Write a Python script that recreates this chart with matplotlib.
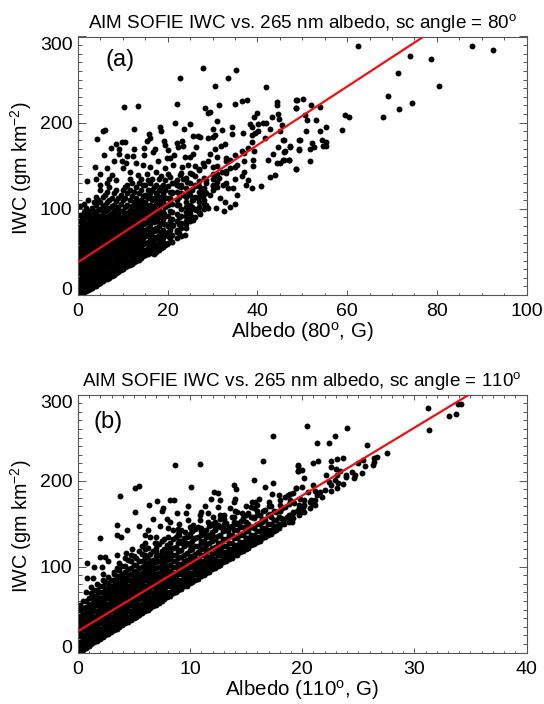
import matplotlib
matplotlib.use('Agg')
import matplotlib.pyplot as plt
from matplotlib.transforms import ScaledTranslation

plt.rcParams['font.family'] = ['Liberation Sans', 'DejaVu Sans']
plt.rcParams['mathtext.fontset'] = 'custom'
plt.rcParams['mathtext.rm'] = 'Liberation Sans'
plt.rcParams['mathtext.default'] = 'regular'

# panel (a): dense part, one x per row of y values
a_dense_x = [0.4, 1.3, 2.2, 3.1, 4.0, 5.0, 6.0, 7.0, 8.0, 9.0, 10, 11, 12, 13, 14, 15, 16, 17, 18, 19, 20,
             0.85, 1.75, 2.65, 3.55, 4.5, 5.5, 6.5, 7.5, 8.5, 9.5, 10.5, 11.5, 12.5, 13.5, 14.5, 15.5, 16.5,
             17.5, 18.5, 19.5, 21, 22, 23, 24, 25, 26, 27, 28,
             10.2, 11.7, 13.2, 14.7, 16.2, 17.7, 19.2, 20.5, 22.5, 24, 25.5, 27, 28.5, 30, 31, 33, 35, 37, 39]
a_dense_y = [
    [1, 7, 13, 19, 25, 31, 37, 43, 49, 55, 61, 67, 73, 79, 86, 93, 103],
    [3, 9, 15, 21, 27, 33, 39, 45, 51, 57, 63, 69, 75, 81, 88, 96, 106],
    [6, 12, 18, 24, 30, 36, 42, 48, 54, 60, 66, 72, 78, 84, 90, 98, 110],
    [8, 14, 20, 26, 32, 38, 44, 50, 56, 62, 68, 74, 80, 86, 92, 101],
    [11, 17, 23, 29, 35, 41, 47, 53, 59, 65, 71, 77, 83, 89, 95, 104, 114],
    [14, 20, 26, 32, 38, 44, 50, 56, 62, 68, 74, 80, 86, 92, 100, 108, 122, 128],
    [18, 24, 30, 36, 42, 48, 54, 60, 66, 72, 78, 84, 90, 97, 105, 116],
    [20, 26, 32, 38, 44, 50, 56, 62, 68, 74, 80, 86, 93, 101, 110, 125, 135],
    [23, 29, 35, 41, 47, 53, 59, 65, 71, 77, 83, 90, 97, 105, 118],
    [27, 33, 39, 45, 51, 57, 63, 69, 75, 81, 87, 94, 102, 112],
    [30, 36, 42, 48, 54, 60, 66, 72, 78, 84, 90, 98, 110, 122],
    [34, 40, 46, 52, 58, 64, 70, 76, 82, 88, 95, 105, 118, 128],
    [36, 42, 48, 54, 60, 67, 74, 80, 87, 94, 103, 115, 130],
    [39, 46, 52, 60, 66, 73, 80, 88, 95, 104, 112, 125],
    [43, 50, 57, 64, 72, 78, 86, 94, 102, 110, 122, 135],
    [46, 52, 60, 68, 76, 84, 92, 100, 108, 116, 128],
    [50, 58, 66, 72, 82, 90, 98, 105, 118, 130],
    [48, 55, 64, 74, 85, 93, 103, 112, 125],
    [52, 60, 70, 80, 90, 100, 110, 122, 135],
    [56, 66, 76, 88, 96, 108, 118, 128],
    [60, 68, 80, 92, 104, 112, 126, 140],
    [4, 10, 16, 22, 28, 34, 40, 46, 52, 58, 64, 70, 76, 82, 90],
    [5, 11, 17, 23, 29, 35, 41, 47, 53, 59, 65, 71, 77, 83, 92, 101],
    [7, 13, 19, 25, 31, 37, 43, 49, 55, 61, 67, 73, 79, 87, 94],
    [10, 16, 22, 28, 34, 40, 46, 52, 58, 64, 70, 76, 82, 89, 97, 108],
    [13, 19, 25, 31, 37, 43, 49, 55, 61, 67, 73, 79, 85, 92, 99, 110],
    [16, 22, 28, 34, 40, 46, 52, 58, 64, 70, 76, 82, 88, 95, 103, 114],
    [19, 25, 31, 37, 43, 49, 55, 61, 67, 73, 79, 85, 91, 99, 108, 120, 130],
    [22, 28, 34, 40, 46, 52, 58, 64, 70, 76, 82, 88, 95, 103, 113],
    [25, 31, 37, 43, 49, 55, 61, 67, 73, 79, 85, 92, 100, 109, 122, 133],
    [29, 35, 41, 47, 53, 59, 65, 71, 77, 83, 89, 97, 106, 116],
    [32, 38, 44, 50, 56, 62, 68, 74, 80, 86, 93, 102, 113, 125],
    [35, 41, 47, 53, 59, 65, 71, 77, 83, 91, 99, 110, 122, 135],
    [38, 44, 51, 57, 63, 70, 77, 84, 91, 98, 108, 120],
    [41, 48, 55, 62, 69, 76, 84, 91, 100, 108, 118, 130],
    [45, 52, 59, 66, 74, 82, 90, 98, 106, 115, 128],
    [48, 55, 62, 70, 78, 86, 94, 103, 112, 122, 133],
    [49, 60, 68, 77, 86, 94, 102, 110, 122, 135],
    [50, 58, 67, 78, 88, 98, 106, 118, 128],
    [54, 63, 73, 84, 94, 104, 114, 125, 138],
    [58, 71, 82, 92, 102, 112, 122, 134],
    [62, 70, 80, 88, 96, 106, 118, 130],
    [66, 76, 86, 94, 110, 120, 134],
    [68, 78, 84, 92, 100, 118, 128, 142],
    [78, 86, 96, 108, 124, 136],
    [86, 98, 105, 116, 130, 142],
    [90, 100, 114, 126, 138, 150],
    [96, 108, 120, 132, 146],
    [100, 110, 124, 136, 150],
    [33, 45, 57, 69, 81, 93],
    [38, 50, 62, 74, 86, 97],
    [44, 56, 68, 80, 92, 102],
    [48, 60, 72, 84, 96, 108],
    [54, 64, 76, 88, 100, 112],
    [54, 66, 76, 86, 96, 108, 116],
    [60, 70, 82, 94, 104, 114],
    [66, 76, 86, 98, 108, 120],
    [72, 82, 90, 104, 114, 126],
    [82, 92, 102, 114],
    [90, 102, 110, 122],
    [102, 114, 126],
    [104, 118, 130],
    [122, 135, 148],
    [125, 140, 150],
    [130, 142, 155],
    [135, 148],
    [143, 155, 165],
    [150],
]
# panel (a): scattered points
a_x = [27.8, 35.2, 33.4, 22.7, 30.5, 42, 10.2, 13.3, 22.1, 31.4, 28.3, 35.1, 36.5, 37.6, 29.4, 29, 44.3, 44.3,
       48.7, 48.6, 30.9, 39.8, 39.3, 43.3, 44.6, 44.8, 38.3, 38.7, 40.2, 41.2, 42, 21.6, 25, 18.3, 18.6, 23.7,
       12.4, 6, 5.6, 34.4, 32, 30.2, 34.4, 36.7, 15.8, 16, 15.3, 25.6, 26.8, 27.2, 29, 30.2, 30.6, 4.2, 8.4,
       9.7, 10.5, 7.3, 9.1, 9.1, 5.9, 19.2, 19.4, 17.2, 16.8, 14.8, 14.7, 12.5, 12.2, 11, 22, 23.1, 20.1, 22.4,
       23.5, 26.4, 25.7, 25, 23.8, 21.4, 20.5, 29.4, 30.5, 31.8, 32.8, 30.9, 27.9, 29, 38, 38.7, 38.7, 39.5,
       40.2, 41.7, 42.9, 45, 45.8, 45.4, 36.5, 35, 33.9, 33.1, 39.2, 39.1, 44.6, 47.3, 46.1, 43.4, 42.4, 44.4,
       45.8, 47.1, 48.7, 42.9, 44, 49.3, 49.3, 40.7, 38.7, 37.4, 36.5, 38, 35.4, 35, 33.9, 32.6, 30.7, 29,
       28.2, 27.9, 29.4, 31.6, 32.8, 34.6, 33.5, 32.4, 30.9, 30.2, 32, 33.9, 35.4, 3.8, 2.1, 4, 5, 6.4, 8.1,
       9.7, 10.8, 7.5, 13, 14.6, 16, 17.9, 19.8, 10, 11.6, 13.4, 15.3, 17.5, 19.4, 21.2, 23.1, 24.6, 20.5,
       22.7, 24.2, 22, 20.5, 22, 23.5, 24.6, 25.7, 26.8, 27.2, 24.2, 22.7, 21.2, 20.1, 23.8, 19.8, 18.3, 22,
       25.7, 26.4, 25, 28.3, 21, 23, 24.5, 26, 27.5, 21.5, 23.5, 25.5, 27, 28.5, 30, 31.5, 33, 28, 30, 31,
       62.5, 87.9, 92.5, 74.1, 78.7, 71.3, 80.6, 69.2, 74.4, 71.5, 68.1, 59.5, 60.5, 58.9, 48.8, 50.1, 48.6,
       51.9, 53.9, 50.7, 51, 53, 50.8, 53.9, 55.3, 49.4, 54.5, 55.4, 54.7, 55.2, 52.2, 52.6, 51.8, 49.3, 47.3,
       46, 46, 45.9, 47, 48.7, 51.8, 45]
a_y = [263, 261, 252, 252, 243, 241, 218.6, 219, 222, 220, 217, 222, 225, 226, 212, 211, 224, 220.5,
       226, 217, 202, 211, 206, 207, 210, 204, 198, 195, 199, 200, 200, 200, 198, 195, 190, 193,
       193, 192, 190, 195, 192, 193, 187, 188, 187, 182, 179, 184.5, 184, 183, 182.6, 183, 186, 181, 175.6,
       177, 178, 171, 169, 164, 162, 179, 174, 170, 165.6, 171, 163, 169, 161, 161, 176, 179, 168, 172,
       173, 172, 164, 160.5, 160.5, 162, 159, 164, 170, 173, 175, 160, 153, 155, 171, 178, 186, 188,
       190, 182, 193, 190, 180, 197, 167, 162, 157, 159, 167, 157, 172, 172, 167, 164, 157, 153,
       157, 157, 146, 137, 139, 180, 169, 126, 124, 128, 138, 133, 116, 106, 102.5, 98, 100.6, 100.6,
       106, 115, 116, 112, 108, 124, 124, 128, 131, 141, 143, 147, 151, 149, 132, 135, 141, 147, 155,
       155.5, 153, 139, 153, 151, 149, 155, 159, 147, 143, 139, 141, 143, 147, 151, 149, 151, 137,
       139, 131.5, 128, 112, 104, 116, 102.5, 110, 112, 93.6, 89, 81, 81, 73.5, 69.6, 58.8, 65.8, 73.5,
       87, 98.6, 94.8, 120, 120, 125, 120, 128, 122, 130, 135, 140, 145, 134, 128, 136, 144, 118, 126, 138,
       289, 289.4, 284, 277, 274, 258, 243, 231, 223, 215.5, 206, 209, 206.6, 192, 226, 227.5, 216.6,
       221, 218, 209, 203, 203.5, 190.7, 190.7, 195, 180, 179.5, 178, 173, 172.5, 176, 172, 170, 168, 173,
       180, 166, 157, 157, 146, 156, 153]
a_line_x = [0, 77.1]
a_line_y = [38, 300]

# panel (b): dense band along the lower edge
b_dense_x = [0.2, 0.7, 1.2, 1.7, 2.2, 2.7, 3.2, 3.7, 4.2, 4.7, 5.2, 5.7, 6.2, 6.7, 7.2, 7.7, 8.2, 8.7, 9.2, 9.7,
             10.2, 10.7, 11.2, 11.7, 12.2, 12.7, 13.2, 13.7, 14.2, 14.7, 15.2, 15.7, 16.2, 16.7, 17.2, 17.7,
             0.45, 0.95, 1.45, 1.95, 2.45, 2.95, 3.45, 3.95, 4.45, 4.95, 5.45, 5.95, 6.45, 6.95, 7.45, 7.95,
             8.45, 8.95, 9.45, 9.95, 10.45, 10.95, 11.45, 11.95, 12.45, 12.95, 13.45, 13.95, 14.45, 14.95,
             15.45, 15.95, 16.45, 16.95, 17.45, 17.95, 18.4, 18.8, 19.2, 19.7, 20.2, 20.7, 21.1,
             6, 7, 8, 9, 10, 11, 12, 13, 14, 15, 16, 17, 18]
b_dense_y = [
    [2, 7, 13, 19, 25, 31, 37, 43, 50, 56],
    [6, 11, 17, 23, 29, 35, 41, 47, 53, 60, 70],
    [10, 15, 21, 27, 33, 39, 45, 51, 57, 63, 69, 76],
    [14, 19, 25, 31, 37, 43, 49, 55, 61, 67, 73, 80],
    [18, 23, 29, 35, 41, 47, 53, 59, 65, 71, 77, 84, 92],
    [22, 27, 33, 39, 45, 51, 57, 63, 69, 75, 81, 88],
    [26, 31, 37, 43, 49, 55, 61, 67, 73, 79, 85, 94],
    [30, 35, 41, 47, 53, 59, 65, 71, 77, 83, 89, 96, 104],
    [34, 39, 45, 51, 57, 63, 69, 75, 81, 87, 94, 101],
    [38, 43, 49, 55, 61, 67, 73, 79, 85, 91, 98, 106, 113],
    [42, 47, 53, 59, 65, 71, 77, 83, 89, 95, 102, 110],
    [46, 51, 57, 63, 69, 75, 81, 87, 93, 99, 106, 115, 124],
    [50, 55, 61, 67, 73, 79, 85, 91, 97, 104, 112, 122],
    [54, 59, 65, 71, 77, 83, 89, 95, 102, 108, 118],
    [58, 63, 69, 75, 81, 87, 93, 99, 107, 114, 126],
    [62, 67, 73, 79, 85, 91, 98, 105, 112, 121, 132],
    [66, 71, 77, 83, 89, 95, 102, 109, 118, 128],
    [70, 75, 81, 87, 93, 100, 106, 114, 123, 134],
    [74, 79, 85, 91, 97, 103, 111, 119, 130, 142],
    [78, 83, 89, 95, 101, 108, 116, 126, 135],
    [82, 87, 93, 99, 105, 112, 121, 130, 141],
    [86, 91, 97, 103, 109, 117, 124, 134, 146],
    [90, 95, 101, 107, 114, 122, 130, 139],
    [94, 99, 105, 111, 119, 128, 137, 147],
    [98, 103, 109, 116, 123, 132, 142, 152],
    [102, 107, 113, 120, 128, 137, 146, 160],
    [106, 111, 117, 124, 132, 142, 151],
    [110, 115, 121, 128, 137, 147, 158],
    [114, 119, 125, 133, 142, 151, 163],
    [118, 123, 129, 137, 146, 156],
    [122, 127, 133, 141, 150, 162],
    [126, 131, 137, 145, 156, 168],
    [130, 135, 141, 149, 160],
    [134, 139, 145, 154, 166],
    [138, 143, 150, 158, 170],
    [142, 147, 154, 163],
    [3, 9, 15, 21, 27, 33, 39, 45, 52, 60],
    [8, 14, 20, 26, 32, 38, 44, 50, 56, 63],
    [12, 18, 24, 30, 36, 42, 48, 54, 60, 66, 73],
    [16, 22, 28, 34, 40, 46, 52, 58, 64, 70, 78],
    [20, 26, 32, 38, 44, 50, 56, 62, 68, 74, 82],
    [24, 30, 36, 42, 48, 54, 60, 66, 72, 78, 85],
    [28, 34, 40, 46, 52, 58, 64, 70, 76, 82, 89, 98],
    [32, 38, 44, 50, 56, 62, 68, 74, 80, 86, 92, 101],
    [36, 42, 48, 54, 60, 66, 72, 78, 84, 90, 97, 108],
    [40, 46, 52, 58, 64, 70, 76, 82, 88, 94, 102, 112],
    [44, 50, 56, 62, 68, 74, 80, 86, 92, 98, 106, 118],
    [48, 54, 60, 66, 72, 78, 84, 90, 96, 102, 110, 120],
    [52, 58, 64, 70, 76, 82, 88, 94, 100, 107, 115],
    [56, 62, 68, 74, 80, 86, 92, 98, 105, 112, 122],
    [60, 66, 72, 78, 84, 90, 96, 102, 110, 118, 130],
    [65, 71, 77, 83, 89, 95, 101, 108, 116, 125],
    [69, 75, 81, 87, 93, 99, 106, 113, 122, 132],
    [73, 79, 85, 91, 97, 103, 110, 118, 127, 138],
    [77, 83, 89, 95, 101, 107, 114, 124, 133],
    [81, 87, 93, 99, 105, 111, 119, 128, 138],
    [85, 91, 97, 103, 109, 115, 124, 133, 144],
    [89, 95, 101, 107, 113, 120, 128, 137],
    [93, 99, 105, 111, 117, 125, 135, 143],
    [97, 103, 109, 115, 122, 130, 140, 150],
    [101, 107, 113, 119, 127, 136, 148],
    [105, 111, 117, 124, 132, 141],
    [109, 115, 121, 128, 137, 146],
    [113, 119, 125, 133, 142, 152],
    [117, 123, 129, 137, 146],
    [121, 127, 133, 141, 152],
    [125, 131, 137, 146, 158],
    [129, 135, 141, 150],
    [133, 139, 145, 155],
    [137, 143, 150, 160],
    [141, 147, 154, 165],
    [145, 150, 158],
    [149, 155],
    [152, 160],
    [156, 163],
    [160, 168],
    [164, 172, 178],
    [168, 175],
    [172, 178],
    [104, 113, 128],
    [108, 118, 128, 135],
    [112, 124, 135, 145],
    [118, 130, 140, 150],
    [125, 136, 146],
    [130, 145],
    [136, 148, 158],
    [150, 160],
    [150, 165],
    [160, 170],
    [165, 172],
    [175],
    [165, 172, 178],
]
# panel (b): scattered points
b_x = [2, 2.4, 2.7, 2.1, 3.2, 0.8, 1.4, 0.8, 1.3, 3.5, 4.2, 4.3, 4.8, 2, 3.5, 3.5, 3.8, 4.4, 3.75, 5.1, 5.4,
       6.3, 5.1, 5.4, 6.2, 6, 6.4, 6.7, 7.05, 7.6, 7.5, 8.2, 8.6, 8.66, 10.9, 10.06, 9.85, 9.6, 8.8, 7.9, 8.2,
       8.96, 9.55, 9.85, 10.3, 10.9, 11, 11.55, 11.3, 11.9, 12.1, 12.5, 12.7, 12.5, 12.8, 11.6, 12.2, 13, 13.9,
       14.1, 14, 13.9, 13.6, 13.9, 14.6, 15.7, 16.7, 17.35, 16.5, 17.4, 17.3, 17.9, 15.5, 15.8, 16.1, 15.4, 17,
       16.5, 16, 19.6, 19.65, 19.4, 18.9, 18.5, 19.8, 31.2, 31.3, 33.1, 33.7, 33.9, 34.2, 20.4, 24, 22.9, 21.3,
       22.35, 25.8, 27.6, 26.7, 26.4, 26.4, 26.3, 25.6, 25.4, 25, 25.3, 24.7, 24.6, 24.4, 23.9, 23.9, 23.6, 23.1,
       22.6, 22.6, 23, 23.4, 23.1, 22.1, 21.4, 21, 19.6, 19.97, 19.6, 20.2, 19.4, 20, 21, 20.5, 21.1, 22.4, 22.6,
       22.9, 23.2, 23.6, 22.6, 23.1, 22, 21.6, 21.8, 21.3, 20.9, 20.8, 19.97, 20.1, 19.7, 19.2, 18.7, 18.9, 19.2,
       18.9, 18.3, 18, 18.5, 18.8, 18.2, 6.9, 8.1, 9, 9.6, 10.4, 11, 12, 13, 13.6, 14.4, 15, 15.6, 16.4, 17.1, 18,
       18.6, 19.3, 19.9, 18.1, 19.1, 19.5, 20.1, 7.3, 8.5, 9.3, 10.1, 10.9, 11.8, 12.7, 13.4, 14.5, 15.2]
b_y = [111, 111, 106, 100, 91, 104, 99, 87, 87, 113, 109.5, 116, 121, 133, 148, 137, 134, 142, 181.5, 191.6, 193.5,
       172, 163, 147, 142, 137, 135, 155, 175.7, 168.7, 164.5, 177.6, 178, 218.6, 219.4, 192.7, 170, 161.8, 161.8, 155, 152,
       144, 140.5, 154, 148, 154, 163.7, 162.5, 171, 179, 187, 185, 178, 169.5, 156.7, 152, 144, 144, 194.7,
       190, 179, 175, 168, 158, 162, 200.5, 192.7, 252, 222.5, 197.7, 184.6, 183.8, 175, 175, 179, 169.5, 171,
       164.5, 160, 218, 211, 191.6, 184, 181, 179, 284.4, 258.5, 274.8, 277, 289.5, 289.5, 263.5, 261, 252, 243.8,
       243.8, 241.5, 231.8, 227.5, 226, 221.7, 218, 217, 224, 220, 209, 206, 203, 210, 207, 204, 226.8, 225,
       222.5, 216, 214, 211, 206.7, 206, 223, 220.6, 217.5, 212.5, 211, 202.8, 191.6, 192, 195.4, 187, 187.7, 198.5, 194.7,
       200.5, 196.6, 195.8, 188, 191.6, 189.6, 187, 181, 183, 173, 178, 165.6, 170.7, 172, 185, 183, 177, 161.8,
       158, 154, 148, 169.5, 173, 167.6, 128, 122, 137, 127, 133, 141, 133, 155, 146, 149, 141, 158, 152, 161, 165,
       158, 174, 164, 157, 152, 165, 168, 147, 143, 128, 145, 160, 135, 155, 141, 153, 148]
b_line_x = [0, 34.9]
b_line_y = [25, 300]

a_x_all = list(a_x)
a_y_all = list(a_y)
for x, ys in zip(a_dense_x, a_dense_y):
    a_x_all += [x] * len(ys)
    a_y_all += ys

b_x_all = list(b_x)
b_y_all = list(b_y)
for x, ys in zip(b_dense_x, b_dense_y):
    b_x_all += [x] * len(ys)
    b_y_all += ys

W, H = 544, 704
fig = plt.figure(figsize=(W / 100, H / 100), dpi=100)


def panel(rect, xs, ys, lx, ly, xmax, xmajor, xminor, title, xlabel, tag, tag_x, tag_y):
    left, top, right, bottom = rect
    ax = fig.add_axes([left / W, 1 - bottom / H, (right - left) / W, (bottom - top) / H])
    ax.scatter(xs, ys, s=18, color='black', linewidths=0, zorder=2)
    ax.plot(lx, ly, color='#ee1111', lw=1.6, zorder=3)
    ax.set_xlim(0, xmax)
    ax.set_ylim(0, 300)
    ax.set_xticks([v * xmajor for v in range(int(xmax / xmajor) + 1)])
    ax.set_xticks([v * xminor for v in range(int(xmax / xminor) + 1)], minor=True)
    ax.set_yticks([0, 100, 200, 300])
    ax.set_yticks(list(range(0, 301, 10)), minor=True)
    ax.tick_params(axis='x', which='major', direction='in', top=True, length=3.4, width=0.7,
                   color='#555555', labelsize=14, pad=6)
    ax.tick_params(axis='x', which='minor', direction='in', top=True, length=1.8, width=0.7, color='#555555')
    ax.tick_params(axis='y', which='major', direction='in', right=True, length=6, width=0.7,
                   color='#555555', labelsize=14, pad=4)
    ax.tick_params(axis='y', which='minor', direction='in', right=True, length=3, width=0.7, color='#555555')
    # end labels sit inside the axis range, as in the IDL plot
    labels = ax.get_yticklabels()
    labels[0].set_transform(labels[0].get_transform() + ScaledTranslation(0, 6.5 / 100, fig.dpi_scale_trans))
    labels[-1].set_va('top')
    for s in ax.spines.values():
        s.set_linewidth(0.8)
        s.set_color('#555555')
    ax.set_xlabel(xlabel, fontsize=14.8, labelpad=0)
    ax.set_ylabel('IWC (gm km$^{-2}$)', fontsize=14.2)
    ax.yaxis.set_label_coords(-0.098, 0.49)
    ax.set_title(title, fontsize=13.6, pad=6)
    ax.text(tag_x, tag_y, tag, transform=ax.transAxes, fontsize=17, ha='center', va='center')
    return ax


panel((78, 36.5, 526.5, 295), a_x_all, a_y_all, a_line_x, a_line_y, 100, 20, 5,
      'AIM SOFIE IWC vs. 265 nm albedo, sc angle = 80$^{o}$', 'Albedo (80$^{o}$, G)', '(a)', 0.093, 0.91)
panel((78, 394.5, 526.5, 652.7), b_x_all, b_y_all, b_line_x, b_line_y, 40, 10, 1,
      'AIM SOFIE IWC vs. 265 nm albedo, sc angle = 110$^{o}$', 'Albedo (110$^{o}$, G)', '(b)', 0.068, 0.895)

fig.savefig('out.png', dpi=100)
